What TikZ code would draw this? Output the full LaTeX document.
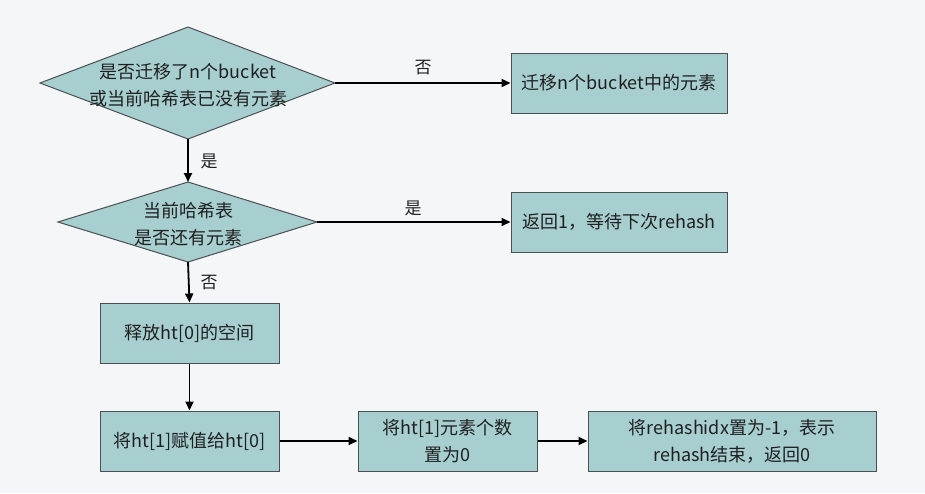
\documentclass[tikz,border=0pt]{standalone}
\usepackage{fontspec}
\setmainfont{Noto Sans CJK SC}
\usetikzlibrary{arrows.meta,shapes.geometric}
\definecolor{bgc}{HTML}{F4F6F8}
\definecolor{fillc}{HTML}{A8CFD0}
\definecolor{edgec}{HTML}{4A4F52}
\tikzset{
  box/.style={draw=edgec, fill=fillc, line width=1pt, inner sep=0pt, align=center, font=\fontsize{18}{27}\selectfont, text=black!88},
  dia/.style={draw=edgec, fill=fillc, line width=1pt},
  txt/.style={align=center, font=\fontsize{18}{27}\selectfont, text=black!88},
  lbl/.style={font=\fontsize{17}{20}\selectfont, text=black!88},
  conn/.style={line width=1.8pt, -{Triangle[length=9pt,width=8pt]}},
}
\begin{document}
\begin{tikzpicture}[x=1pt,y=-1pt]
\fill[bgc] (0,0) rectangle (925,493);
\useasboundingbox (0,0) rectangle (925,493);
% diamond 1
\draw[dia] (40,83) -- (188,27) -- (335,83) -- (188,139) -- cycle;
\node[txt] (d1) at (188,85) {是否迁移了n个bucket\\或当前哈希表已没有元素};
\coordinate (d1r) at (335,83);
\coordinate (d1b) at (188,139);
% diamond 2
\draw[dia] (58,222) -- (188,182) -- (317,222) -- (188,262) -- cycle;
\node[txt] (d2) at (188,224) {当前哈希表\\是否还有元素};
\coordinate (d2t) at (188,182);
\coordinate (d2r) at (317,222);
\coordinate (d2b) at (188,262);
% boxes
\node[box, minimum width=216pt, minimum height=60pt] (b1) at (619,83) {迁移n个bucket中的元素};
\node[box, minimum width=216pt, minimum height=60pt] (b2) at (619,222) {返回1，等待下次rehash};
\node[box, minimum width=179pt, minimum height=60pt] (b3) at (189.5,333) {释放ht[0]的空间};
\node[box, minimum width=179pt, minimum height=60pt] (b4) at (189.5,441) {将ht[1]赋值给ht[0]};
\node[box, minimum width=179pt, minimum height=60pt] (b5) at (447.5,441) {将ht[1]元素个数\\置为0};
\node[box, minimum width=288pt, minimum height=60pt] (b6) at (732,441) {将rehashidx置为-1，表示\\rehash结束，返回0};
% connectors
\draw[conn] (d1r) -- (b1.west);
\draw[conn] (d1b) -- (d2t);
\draw[conn] (d2r) -- (b2.west);
\draw[conn] (d2b) -- (b3.north);
\draw[conn] (b3.south) -- (b4.north);
\draw[conn] (b4.east) -- (b5.west);
\draw[conn] (b5.east) -- (b6.west);
% labels
\node[lbl] (l1) at (423,68) {否};
\node[lbl] (l2) at (209,161) {是};
\node[lbl] (l3) at (413,208) {是};
\node[lbl] (l4) at (209,283) {否};
\end{tikzpicture}
\end{document}
